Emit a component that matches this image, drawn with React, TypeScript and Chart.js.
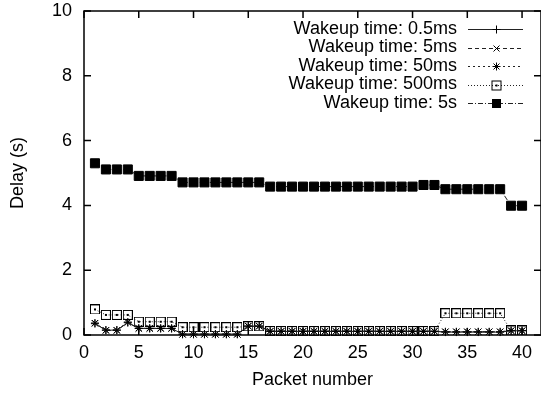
import { useEffect, useRef } from 'react';
import { Chart, registerables } from 'chart.js';

Chart.register(...registerables);

// Packet sequence numbers along the x axis
const packets = [
  1, 2, 3, 4, 5, 6, 7, 8, 9, 10, 11, 12, 13, 14, 15, 16, 17, 18, 19, 20,
  21, 22, 23, 24, 25, 26, 27, 28, 29, 30, 31, 32, 33, 34, 35, 36, 37, 38, 39, 40,
];

const xTickValues = [0, 5, 10, 15, 20, 25, 30, 35, 40];
const yTickValues = [0, 2, 4, 6, 8, 10];

// Delay in seconds for each wakeup interval
const delay05ms = [
  0.35, 0.15, 0.15, 0.38, 0.2, 0.2, 0.2, 0.2, 0.03, 0.03, 0.03, 0.03, 0.03, 0.03, 0.27, 0.27,
  0.11, 0.11, 0.11, 0.11, 0.11, 0.11, 0.11, 0.11, 0.11, 0.11, 0.11, 0.11, 0.11, 0.11, 0.11, 0.11,
  0.09, 0.09, 0.09, 0.09, 0.09, 0.09, 0.13, 0.13,
];
const delay5ms = [
  0.36, 0.14, 0.14, 0.39, 0.2, 0.2, 0.2, 0.2, 0.02, 0.02, 0.02, 0.02, 0.02, 0.02, 0.27, 0.27,
  0.11, 0.11, 0.11, 0.11, 0.11, 0.11, 0.11, 0.11, 0.11, 0.11, 0.11, 0.11, 0.11, 0.11, 0.11, 0.11,
  0.1, 0.1, 0.1, 0.1, 0.1, 0.1, 0.13, 0.13,
];
const delay50ms = [
  0.37, 0.15, 0.15, 0.4, 0.21, 0.21, 0.21, 0.21, 0.02, 0.02, 0.02, 0.02, 0.02, 0.02, 0.28, 0.28,
  0.12, 0.12, 0.12, 0.12, 0.12, 0.12, 0.12, 0.12, 0.12, 0.12, 0.12, 0.12, 0.12, 0.12, 0.12, 0.12,
  0.1, 0.1, 0.1, 0.1, 0.1, 0.1, 0.14, 0.14,
];
const delay500ms = [
  0.79, 0.62, 0.62, 0.62, 0.41, 0.41, 0.41, 0.41, 0.24, 0.24, 0.24, 0.24, 0.24, 0.24, 0.27, 0.27,
  0.12, 0.12, 0.12, 0.12, 0.12, 0.12, 0.12, 0.12, 0.12, 0.12, 0.12, 0.12, 0.12, 0.12, 0.12, 0.12,
  0.67, 0.67, 0.67, 0.67, 0.67, 0.67, 0.14, 0.14,
];
const delay5s = [
  5.3, 5.11, 5.11, 5.11, 4.91, 4.91, 4.91, 4.91, 4.71, 4.71, 4.71, 4.71, 4.71, 4.71, 4.71, 4.71,
  4.58, 4.58, 4.58, 4.58, 4.58, 4.58, 4.58, 4.58, 4.58, 4.58, 4.58, 4.58, 4.58, 4.58, 4.63, 4.63,
  4.5, 4.5, 4.5, 4.5, 4.5, 4.5, 3.99, 3.99,
];

const seriesLabels = [
  'Wakeup time: 0.5ms',
  'Wakeup time: 5ms',
  'Wakeup time: 50ms',
  'Wakeup time: 500ms',
  'Wakeup time: 5s',
];

const FONT = '"Liberation Sans", Arial, Helvetica, sans-serif';
const FONT_SIZE = 18;

type MarkerKind = 'plus' | 'cross' | 'star' | 'boxDot' | 'box';

const markerKinds: MarkerKind[] = ['plus', 'cross', 'star', 'boxDot', 'box'];
const dashPatterns: number[][] = [[], [4, 3], [2, 3], [1, 2], [5, 2, 1, 2]];

function drawMarker(ctx: CanvasRenderingContext2D, kind: MarkerKind, x: number, y: number) {
  ctx.save();
  ctx.setLineDash([]);
  ctx.strokeStyle = '#000';
  ctx.fillStyle = '#000';
  ctx.lineWidth = 1;
  ctx.beginPath();
  if (kind === 'plus' || kind === 'star') {
    ctx.moveTo(x - 4, y);
    ctx.lineTo(x + 4, y);
    ctx.moveTo(x, y - 4);
    ctx.lineTo(x, y + 4);
  }
  if (kind === 'cross' || kind === 'star') {
    ctx.moveTo(x - 3, y - 3);
    ctx.lineTo(x + 3, y + 3);
    ctx.moveTo(x - 3, y + 3);
    ctx.lineTo(x + 3, y - 3);
  }
  ctx.stroke();
  if (kind === 'boxDot') {
    ctx.strokeRect(x - 4.5, y - 4.5, 9, 9);
    ctx.fillRect(x - 1, y - 1, 2, 2);
  }
  if (kind === 'box') {
    ctx.fillRect(x - 4.5, y - 4.5, 9, 9);
  }
  ctx.restore();
}

function makeBoxDotImage(): HTMLCanvasElement {
  const c = document.createElement('canvas');
  c.width = 10;
  c.height = 10;
  const g = c.getContext('2d')!;
  g.strokeStyle = '#000';
  g.lineWidth = 1;
  g.strokeRect(0.5, 0.5, 9, 9);
  g.fillStyle = '#000';
  g.fillRect(4, 4, 2, 2);
  return c;
}

// Border box with inward tick marks on all four sides
const framePlugin = {
  id: 'frame',
  beforeDatasetsDraw(chart: Chart) {
    const { ctx, chartArea } = chart;
    const { left, top, right, bottom } = chartArea;
    const xs = chart.scales.x;
    const ys = chart.scales.y;
    const tick = 7;
    ctx.save();
    ctx.strokeStyle = '#000';
    ctx.lineWidth = 1.5;
    ctx.setLineDash([]);
    ctx.strokeRect(left, top, right - left, bottom - top);
    ctx.beginPath();
    for (const v of xTickValues) {
      const px = xs.getPixelForValue(v);
      ctx.moveTo(px, bottom);
      ctx.lineTo(px, bottom - tick);
      ctx.moveTo(px, top);
      ctx.lineTo(px, top + tick);
    }
    for (const v of yTickValues) {
      const py = ys.getPixelForValue(v);
      ctx.moveTo(left, py);
      ctx.lineTo(left + tick, py);
      ctx.moveTo(right, py);
      ctx.lineTo(right - tick, py);
    }
    ctx.stroke();
    ctx.restore();
  },
};

// Key in the upper right: right-aligned labels with a line sample and marker
const keyPlugin = {
  id: 'key',
  afterDraw(chart: Chart) {
    const { ctx } = chart;
    const textRight = 457;
    const lineStart = 468;
    const lineEnd = 523;
    const firstRow = 29;
    const rowStep = 18.5;
    ctx.save();
    ctx.font = `${FONT_SIZE}px ${FONT}`;
    ctx.textAlign = 'right';
    ctx.textBaseline = 'middle';
    ctx.fillStyle = '#000';
    seriesLabels.forEach((label, i) => {
      const y = firstRow + i * rowStep;
      ctx.fillText(label, textRight, y);
      ctx.beginPath();
      ctx.strokeStyle = '#222';
      ctx.lineWidth = 1;
      ctx.setLineDash(dashPatterns[i]);
      ctx.moveTo(lineStart, Math.round(y) + 0.5);
      ctx.lineTo(lineEnd, Math.round(y) + 0.5);
      ctx.stroke();
      drawMarker(ctx, markerKinds[i], Math.round((lineStart + lineEnd) / 2) + 0.5, Math.round(y) + 0.5);
    });
    ctx.restore();
  },
};

export default function App() {
  const canvasRef = useRef<HTMLCanvasElement | null>(null);

  useEffect(() => {
    const canvas = canvasRef.current;
    if (!canvas) return;
    const boxDot = makeBoxDotImage();
    const seriesValues = [delay05ms, delay5ms, delay50ms, delay500ms, delay5s];
    const pointStyles: any[] = ['cross', 'crossRot', 'star', boxDot, 'rect'];
    const pointRadii = [4, 4.7, 4, 5, 6.4];

    const datasets = seriesValues.map((vals, i) => ({
      label: seriesLabels[i],
      data: packets.map((p, j) => ({ x: p, y: vals[j] })),
      borderColor: '#222',
      borderWidth: 1,
      borderDash: dashPatterns[i],
      backgroundColor: '#000',
      pointStyle: pointStyles[i],
      pointRadius: pointRadii[i],
      pointBorderColor: '#000',
      pointBackgroundColor: i === 4 ? '#000' : 'rgba(0,0,0,0)',
      pointBorderWidth: 1,
      fill: false,
      tension: 0,
      clip: false as any,
    }));

    const chart = new Chart(canvas, {
      type: 'line',
      data: { datasets },
      options: {
        responsive: false,
        animation: false,
        layout: { autoPadding: false, padding: { top: 11, right: -1, bottom: 0, left: 0 } },
        plugins: {
          legend: { display: false },
          tooltip: { enabled: false },
        },
        scales: {
          x: {
            type: 'linear',
            min: 0,
            max: 41.73,
            grid: { display: false, drawTicks: false },
            border: { display: false },
            afterBuildTicks: (scale: any) => {
              scale.ticks = xTickValues.map((v) => ({ value: v }));
            },
            afterFit: (scale: any) => {
              scale.height = 61;
              scale.paddingLeft = 0;
              scale.paddingRight = 0;
            },
            ticks: {
              padding: 7,
              color: '#000',
              font: { family: FONT, size: FONT_SIZE },
              maxRotation: 0,
              autoSkip: false,
            },
            title: {
              display: true,
              text: 'Packet number',
              color: '#000',
              font: { family: FONT, size: FONT_SIZE },
              padding: { top: 0, bottom: 5 },
            },
          },
          y: {
            type: 'linear',
            min: 0,
            max: 10,
            grid: { display: false, drawTicks: false },
            border: { display: false },
            afterBuildTicks: (scale: any) => {
              scale.ticks = yTickValues.map((v) => ({ value: v }));
            },
            afterFit: (scale: any) => {
              scale.width = 84;
              scale.paddingTop = 0;
              scale.paddingBottom = 0;
            },
            ticks: {
              padding: 12,
              color: '#000',
              font: { family: FONT, size: FONT_SIZE },
            },
            title: {
              display: true,
              text: 'Delay (s)',
              color: '#000',
              font: { family: FONT, size: FONT_SIZE },
              padding: { top: 7, bottom: 0 },
            },
          },
        },
      },
      plugins: [framePlugin, keyPlugin],
    });

    return () => chart.destroy();
  }, []);

  return (
    <div style={{ position: 'fixed', left: 0, top: 0, width: 541, height: 396, background: '#fff' }}>
      <canvas ref={canvasRef} width={541} height={396} style={{ display: 'block' }} />
    </div>
  );
}
